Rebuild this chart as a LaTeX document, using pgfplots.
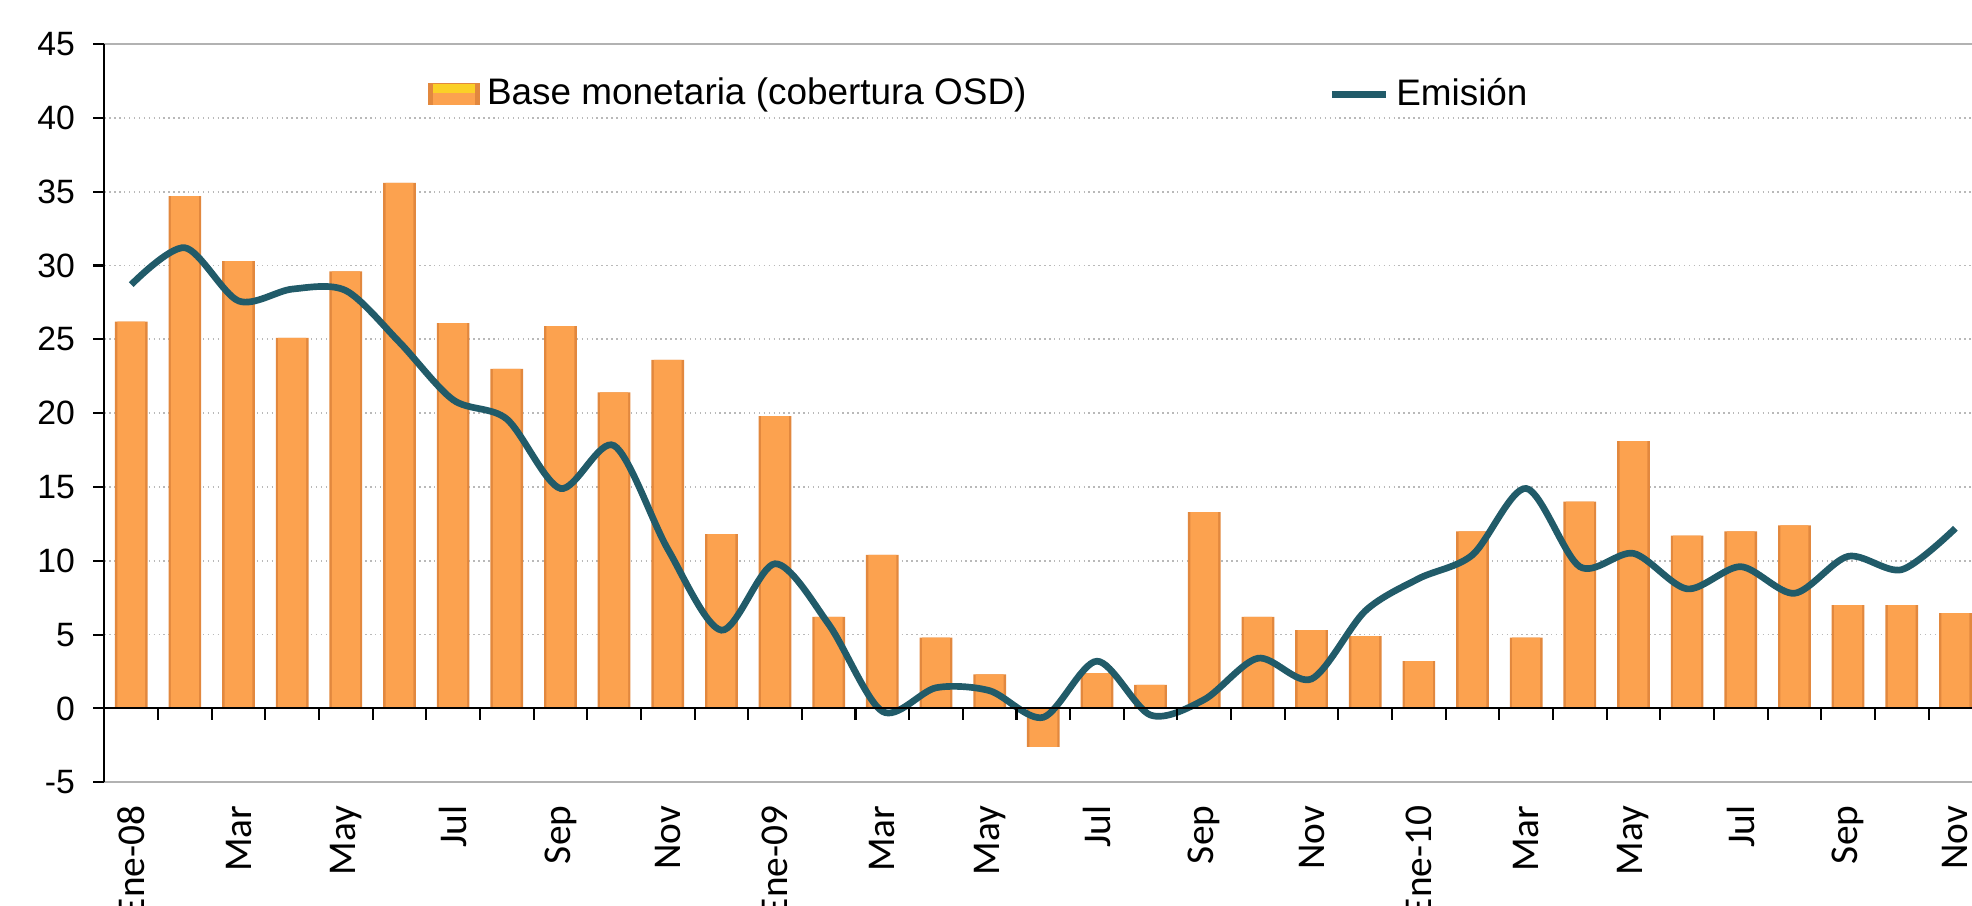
\documentclass[border=0pt]{standalone}
\usepackage{fontspec}
\setmainfont{Liberation Sans}
\newfontfamily\carlito{Carlito}
\usepackage{pgfplots}
\pgfplotsset{compat=1.18}
\definecolor{barmid}{HTML}{FCA24F}
\definecolor{baredge}{HTML}{E2883E}
\definecolor{emis}{HTML}{215B69}
\pgfplotstableread{
x y
0 26.2
1 34.7
2 30.3
3 25.1
4 29.6
5 35.6
6 26.1
7 23.0
8 25.9
9 21.4
10 23.6
11 11.8
12 19.8
13 6.2
14 10.4
15 4.8
16 2.3
17 -2.6
18 2.4
19 1.6
20 13.3
21 6.2
22 5.3
23 4.9
24 3.2
25 12.0
26 4.8
27 14.0
28 18.1
29 11.7
30 12.0
31 12.4
32 7.0
33 7.0
34 6.45
}\basetab
\pgfplotstableread{
x y
0 28.7
1 31.2
2 27.6
3 28.4
4 28.3
5 24.8
6 20.9
7 19.6
8 14.9
9 17.8
10 10.8
11 5.3
12 9.8
13 5.7
14 -0.2
15 1.4
16 1.2
17 -0.6
18 3.2
19 -0.45
20 0.6
21 3.4
22 2.0
23 6.6
24 8.8
25 10.4
26 14.9
27 9.6
28 10.5
29 8.1
30 9.6
31 7.8
32 10.3
33 9.4
34 12.2
}\emistab
\begin{document}
\begin{tikzpicture}
\begin{axis}[name=ax,
  scale only axis, width=187.78mm, height=73.83mm,
  xmin=-0.5, xmax=34.5, ymin=-5, ymax=45,
  separate axis lines,
  axis y line*=left,
  x axis line style={gray!60, line width=0.5pt},
  y axis line style={black, line width=0.6pt},
  ytick={-5,0,...,45},
  ytick style={black, line width=0.6pt},
  tick align=outside,
  major tick length=1.1mm,
  ymajorgrids,
  grid style={densely dotted, gray!55, line width=0.5pt},
  /pgf/number format/assume math mode=true,
  yticklabel style={font=\fontsize{9.6}{11}\selectfont, xshift=-0.6mm},
  xtick={0,2,...,34},
  major x tick style={draw=none},
  xticklabels={Ene-08,Mar,May,Jul,Sep,Nov,Ene-09,Mar,May,Jul,Sep,Nov,Ene-10,Mar,May,Jul,Sep,Nov},
  xticklabel style={font=\carlito\fontsize{11.2}{13}\selectfont, rotate=90, anchor=east},
  legend columns=2,
  legend style={draw=none, fill=none, at={(0.172,0.932)}, anchor=west,
    font=\fontsize{10.5}{12}\selectfont, inner sep=0pt,
    /tikz/every even column/.append style={column sep=29.5mm}},
  legend cell align=left,
]
\addplot[ybar, bar width=0.61, fill=baredge, draw=none,
  legend image code/.code={\path[fill=baredge] (0mm,-1.1mm) rectangle (5.2mm,1.1mm);
    \path[fill=barmid] (0.5mm,-1.1mm) rectangle (4.7mm,0.6mm);
    \path[fill=yellow!55!barmid] (0.5mm,0.1mm) rectangle (4.7mm,1.0mm);}]
  table[x=x,y=y] {\basetab};
\addlegendentry{Base monetaria (cobertura OSD)}
\addplot[ybar, bar width=0.52, fill=barmid, draw=none, forget plot]
  table[x=x,y=y] {\basetab};
\addplot[smooth, color=emis, line width=1.9pt, no marks,
  legend image code/.code={\draw[emis, line width=1.9pt] (0mm,0mm) -- (5.4mm,0mm);}]
  table[x=x,y=y] {\emistab};
\addlegendentry{Emisión}
\draw[black, line width=0.6pt] (axis cs:-0.5,0) -- (axis cs:34.5,0);
\pgfplotsinvokeforeach{0.5,1.5,...,33.5}{\draw[black, line width=0.6pt] ([yshift=-1.15mm]axis cs:#1,0) -- (axis cs:#1,0);}
\end{axis}
\pgfresetboundingbox
\path[use as bounding box] ([xshift=-10.44mm, yshift=-12.37mm]ax.south west) rectangle ([xshift=186.76mm, yshift=4.4mm]ax.north west);
\end{tikzpicture}
\end{document}
